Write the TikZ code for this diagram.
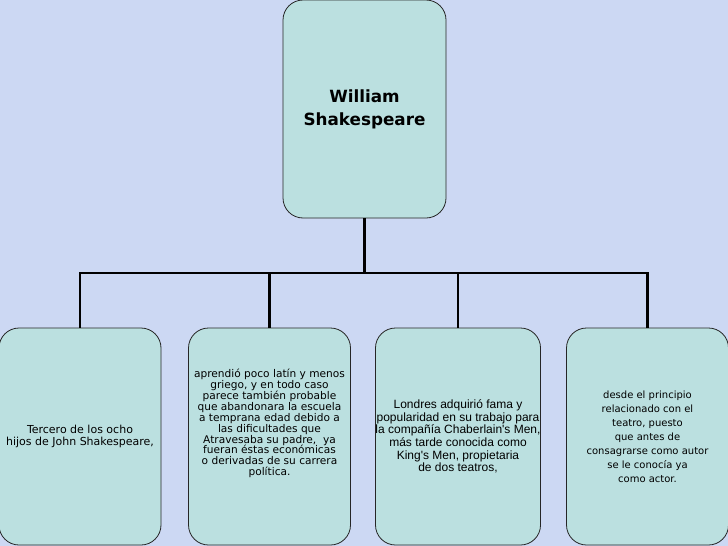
\documentclass[tikz,border=0pt]{standalone}
\usepackage{fontspec}
\setmainfont{DejaVu Sans}
\newfontfamily\arialfont{Liberation Sans}
\usepackage{tikz}
\usetikzlibrary{positioning}

\definecolor{paper}{RGB}{204,216,243}
\definecolor{boxfill}{RGB}{187,224,224}

\begin{document}
\begin{tikzpicture}[
    x=1pt, y=1pt,
    card/.style={rectangle, rounded corners=20pt, draw=black!85, line width=0.8pt,
                 fill=boxfill, minimum width=162pt, minimum height=217pt,
                 inner sep=0pt, align=center},
    conn/.style={draw=black, line width=2.2pt}
    ]

    % Background
    \fill[paper] (0,0) rectangle (728,-546);
    \useasboundingbox (0,0) rectangle (728,-546);

    % Root
    \node[card, minimum width=163pt, minimum height=218pt,
          font=\bfseries\fontsize{16.8}{23}\selectfont] (root) at (364.5,-109) {William\\Shakespeare};

    % Children
    \node[card, font=\fontsize{11}{11.7}\selectfont] (birth) at (80,-436.5)
        {Tercero de los ocho\\hijos de John Shakespeare,};

    \node[card, text depth=28pt, font=\fontsize{10.6}{10.9}\selectfont] (school) at (269.5,-436.5)
        {aprendió poco latín y menos\\griego, y en todo caso\\parece también probable\\
         que abandonara la escuela\\ a temprana edad debido a\\las dificultades que\\
         Atravesaba su padre,\ \ ya\\fueran éstas económicas\\ o derivadas de su carrera\\política.};

    \node[card, font=\arialfont\fontsize{12}{12.7}\selectfont] (london) at (458,-436.5)
        {Londres adquirió fama y\\popularidad en su trabajo para\\la compañía Chaberlain's Men,\\
         más tarde conocida como\\King's Men, propietaria\\de dos teatros,};

    \node[card, font=\fontsize{10}{14}\selectfont] (actor) at (647.5,-436.5)
        {desde el principio\\relacionado con el\\teatro, puesto\\ que antes de\\
         consagrarse como autor\\se le conocía ya\\como actor.};

    % Branches
    \coordinate (fork) at (364.5,-273);
    \draw[conn] (root.south) -- (fork);
    \draw[conn] (fork) -| (birth.north);
    \draw[conn] (fork) -| (school.north);
    \draw[conn] (fork) -| (london.north);
    \draw[conn] (fork) -| (actor.north);

\end{tikzpicture}
\end{document}
